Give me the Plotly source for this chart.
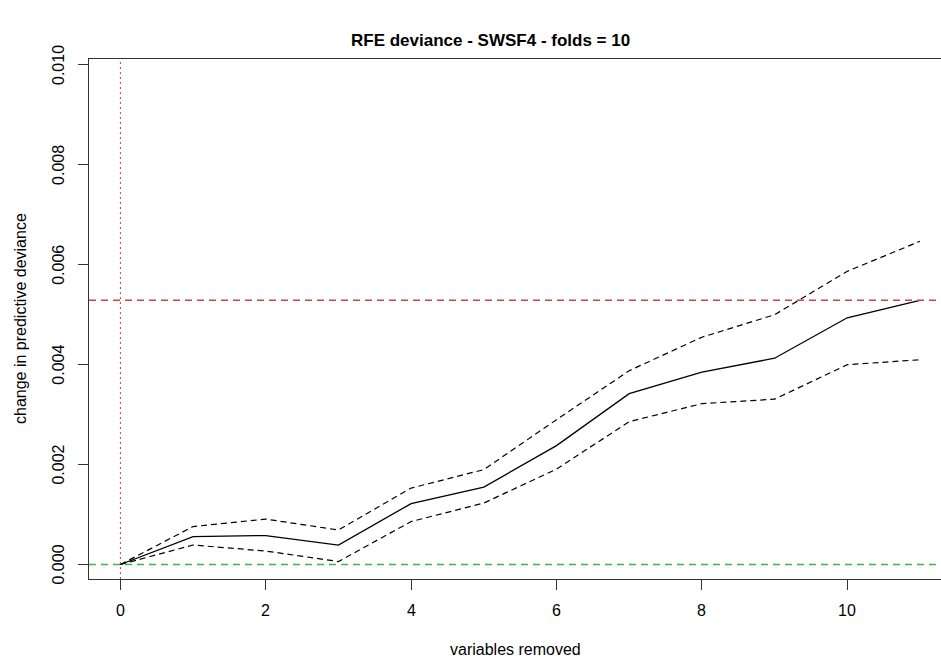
import plotly.graph_objects as go

variables_removed = [0, 1, 2, 3, 4, 5, 6, 7, 8, 9, 10, 11]
mean_dev = [0.0, 0.00056, 0.00058, 0.00039, 0.00122, 0.00155, 0.00238, 0.00342, 0.00385, 0.00413, 0.00494, 0.00529]
upper_dev = [0.0, 0.00076, 0.00091, 0.00069, 0.00153, 0.00190, 0.00290, 0.00388, 0.00455, 0.00500, 0.00587, 0.00647]
lower_dev = [0.0, 0.00039, 0.00027, 0.00006, 0.00086, 0.00123, 0.00191, 0.00286, 0.00322, 0.00331, 0.00400, 0.00410]
x_ticks = [0, 2, 4, 6, 8, 10]
x_tick_labels = ["0", "2", "4", "6", "8", "10"]
y_ticks = [0.000, 0.002, 0.004, 0.006, 0.008, 0.010]
y_tick_labels = ["0.000", "0.002", "0.004", "0.006", "0.008", "0.010"]
ref_line = 0.00529
title_text = "RFE deviance - SWSF4 - folds = 10"
x_title = "variables removed"
y_title = "change in predictive deviance"

FONT = "Liberation Sans, Arial, sans-serif"

fig = go.Figure()
fig.add_trace(go.Scatter(x=variables_removed, y=upper_dev, mode="lines",
                         line=dict(color="black", width=1.2, dash="6px,4px"), showlegend=False))
fig.add_trace(go.Scatter(x=variables_removed, y=lower_dev, mode="lines",
                         line=dict(color="black", width=1.2, dash="6px,4px"), showlegend=False))
fig.add_trace(go.Scatter(x=variables_removed, y=mean_dev, mode="lines",
                         line=dict(color="black", width=1.3), showlegend=False))

# reference lines
fig.add_hline(y=0, line=dict(color="rgb(70,180,70)", width=1.5, dash="7px,5px"))
fig.add_hline(y=ref_line, line=dict(color="rgb(200,70,70)", width=1.5, dash="7px,5px"))
fig.add_vline(x=0, line=dict(color="rgb(200,60,60)", width=1, dash="2px,3px"))

annotations = [
    dict(text="<b>" + title_text + "</b>", xref="paper", yref="paper",
         x=0.4716, y=1, yshift=19, xanchor="center", yanchor="middle",
         showarrow=False, font=dict(size=17, family=FONT)),
    dict(text=x_title, xref="paper", yref="paper", x=0.5, y=0, yshift=-70,
         xanchor="center", yanchor="middle", showarrow=False,
         font=dict(size=16, family=FONT)),
    dict(text=y_title, xref="paper", yref="paper", x=0, xshift=-69, y=0.5,
         xanchor="center", yanchor="middle", textangle=-90, showarrow=False,
         font=dict(size=16, family=FONT)),
]
for v, t in zip(y_ticks, y_tick_labels):
    annotations.append(dict(text=t, xref="paper", yref="y", x=0, y=v, xshift=-30,
                            xanchor="center", yanchor="middle", textangle=-90,
                            showarrow=False, font=dict(size=16, family=FONT)))
for v, t in zip(x_ticks, x_tick_labels):
    annotations.append(dict(text=t, xref="x", yref="paper", x=v, y=0, yshift=-31,
                            xanchor="center", yanchor="middle",
                            showarrow=False, font=dict(size=16, family=FONT)))

fig.update_layout(
    width=941, height=657,
    margin=dict(l=89, r=0, t=59, b=78),
    paper_bgcolor="white", plot_bgcolor="white",
    font=dict(family=FONT, size=16, color="black"),
    xaxis=dict(range=[-0.432, 11.29], tickvals=x_ticks, ticks="outside", ticklen=10,
               tickcolor="#333", showgrid=False, zeroline=False, showticklabels=False,
               showline=True, linecolor="#333", linewidth=1, mirror=True),
    yaxis=dict(range=[-0.00029, 0.01012], tickvals=y_ticks,
               ticks="outside", ticklen=10, tickcolor="#333",
               showgrid=False, zeroline=False, showline=True, linecolor="#333",
               linewidth=1, mirror=False, showticklabels=False),
    annotations=annotations,
)

fig.write_html("out.html", config={"displayModeBar": False},
               post_script="document.body.style.margin='0px';")
